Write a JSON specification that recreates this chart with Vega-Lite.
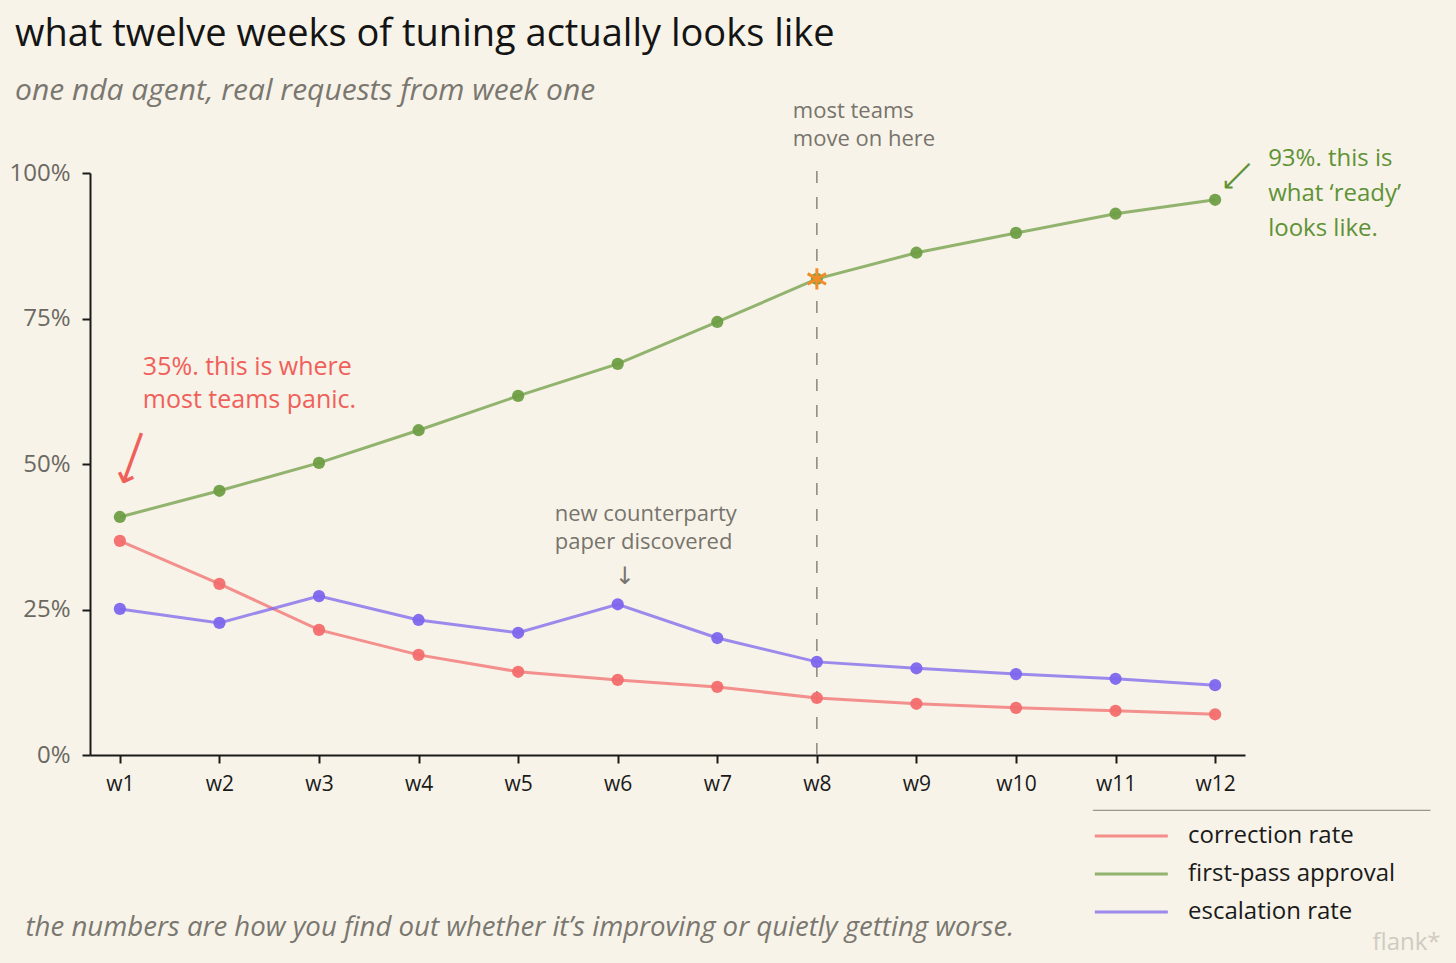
{
  "$schema": "https://vega.github.io/schema/vega-lite/v6.json",
  "width": 1155,
  "height": 582,
  "autosize": {"type": "none"},
  "padding": {"left": 90, "top": 173, "right": 211, "bottom": 208},
  "title": {
    "text": "what twelve weeks of tuning actually looks like",
    "subtitle": "one nda agent, real requests from week one",
    "anchor": "start",
    "frame": "group",
    "dx": -75,
    "offset": -6,
    "font": "Open Sans",
    "fontSize": 38,
    "fontWeight": "normal",
    "color": "#141414",
    "subtitleFont": "Open Sans",
    "subtitleFontSize": 30,
    "subtitleFontStyle": "italic",
    "subtitleColor": "#7a7770",
    "subtitlePadding": 22
  },
  "datasets": {
    "weekly": [
      {"week": "w1", "metric": "correction rate", "value": 36.8},
      {"week": "w2", "metric": "correction rate", "value": 29.4},
      {"week": "w3", "metric": "correction rate", "value": 21.5},
      {"week": "w4", "metric": "correction rate", "value": 17.2},
      {"week": "w5", "metric": "correction rate", "value": 14.3},
      {"week": "w6", "metric": "correction rate", "value": 12.9},
      {"week": "w7", "metric": "correction rate", "value": 11.7},
      {"week": "w8", "metric": "correction rate", "value": 9.8},
      {"week": "w9", "metric": "correction rate", "value": 8.8},
      {"week": "w10", "metric": "correction rate", "value": 8.1},
      {"week": "w11", "metric": "correction rate", "value": 7.6},
      {"week": "w12", "metric": "correction rate", "value": 7.0},
      {"week": "w1", "metric": "first-pass approval", "value": 40.9},
      {"week": "w2", "metric": "first-pass approval", "value": 45.4},
      {"week": "w3", "metric": "first-pass approval", "value": 50.2},
      {"week": "w4", "metric": "first-pass approval", "value": 55.8},
      {"week": "w5", "metric": "first-pass approval", "value": 61.7},
      {"week": "w6", "metric": "first-pass approval", "value": 67.2},
      {"week": "w7", "metric": "first-pass approval", "value": 74.4},
      {"week": "w8", "metric": "first-pass approval", "value": 81.8},
      {"week": "w9", "metric": "first-pass approval", "value": 86.3},
      {"week": "w10", "metric": "first-pass approval", "value": 89.7},
      {"week": "w11", "metric": "first-pass approval", "value": 93.0},
      {"week": "w12", "metric": "first-pass approval", "value": 95.4},
      {"week": "w1", "metric": "escalation rate", "value": 25.1},
      {"week": "w2", "metric": "escalation rate", "value": 22.7},
      {"week": "w3", "metric": "escalation rate", "value": 27.3},
      {"week": "w4", "metric": "escalation rate", "value": 23.2},
      {"week": "w5", "metric": "escalation rate", "value": 21.0},
      {"week": "w6", "metric": "escalation rate", "value": 25.9},
      {"week": "w7", "metric": "escalation rate", "value": 20.1},
      {"week": "w8", "metric": "escalation rate", "value": 16.0},
      {"week": "w9", "metric": "escalation rate", "value": 14.9},
      {"week": "w10", "metric": "escalation rate", "value": 13.9},
      {"week": "w11", "metric": "escalation rate", "value": 13.1},
      {"week": "w12", "metric": "escalation rate", "value": 12.0}
    ],
    "notes": [
      {"id": "panic", "week": "w1", "value": 40.9, "text": "35%. this is where\nmost teams panic."},
      {"id": "ready", "week": "w12", "value": 95.4, "text": "93%. this is\nwhat ‘ready’\nlooks like."},
      {"id": "moveon", "week": "w8", "value": 100, "text": "most teams\nmove on here"},
      {"id": "paper", "week": "w6", "value": 25.9, "text": "new counterparty\npaper discovered"}
    ]
  },
  "encoding": {
    "x": {
      "field": "week",
      "type": "ordinal",
      "scale": {
        "type": "point",
        "domain": ["w1", "w2", "w3", "w4", "w5", "w6", "w7", "w8", "w9", "w10", "w11", "w12"],
        "padding": 0.3
      },
      "axis": {
        "title": "the numbers are how you find out whether it’s improving or quietly getting worse.",
        "titleX": -65,
        "titleY": 180,
        "titleAlign": "left",
        "titleAnchor": "start",
        "titleBaseline": "alphabetic",
        "titleFont": "Open Sans",
        "titleFontSize": 27.6,
        "titleFontStyle": "italic",
        "titleFontWeight": "normal",
        "titleColor": "#7a7770",
        "labelAngle": 0,
        "labelFont": "Open Sans",
        "labelFontSize": 21,
        "labelColor": "#1a1a1a",
        "labelPadding": 10,
        "tickSize": 8,
        "tickWidth": 2,
        "tickColor": "#1a1a1a",
        "domainColor": "#1a1a1a",
        "domainWidth": 2,
        "grid": false
      }
    },
    "y": {
      "field": "value",
      "type": "quantitative",
      "scale": {"domain": [0, 100], "nice": false},
      "axis": {
        "values": [0, 25, 50, 75, 100],
        "labelExpr": "datum.value + '%'",
        "title": "flank*",
        "titleAngle": 0,
        "titleX": 1282,
        "titleY": 776,
        "titleAlign": "left",
        "titleBaseline": "alphabetic",
        "titleFont": "Open Sans",
        "titleFontSize": 24,
        "titleFontWeight": "normal",
        "titleColor": "#cfcbc2",
        "labelFont": "Open Sans",
        "labelFontSize": 24,
        "labelColor": "#6b6862",
        "labelPadding": 12,
        "tickSize": 8,
        "tickWidth": 2,
        "tickColor": "#1a1a1a",
        "domainColor": "#1a1a1a",
        "domainWidth": 2,
        "grid": false
      }
    }
  },
  "layer": [
    {
      "data": {"name": "notes"},
      "transform": [{"filter": "datum.id == 'moveon'"}],
      "mark": {"type": "rule", "color": "#8a8780", "strokeWidth": 1.5, "strokeDash": [12, 14]},
      "encoding": {
        "y": {"datum": 0},
        "y2": {"datum": 101}
      }
    },
    {
      "data": {"name": "weekly"},
      "mark": {"type": "line", "strokeWidth": 3, "opacity": 0.75},
      "encoding": {
        "color": {
          "field": "metric",
          "type": "nominal",
          "scale": {
            "domain": ["correction rate", "first-pass approval", "escalation rate"],
            "range": ["#f26d6d", "#6f9e45", "#7e66ee"]
          },
          "legend": {
            "orient": "none",
            "legendX": 1003,
            "legendY": 631,
            "padding": 0,
            "title": "────────────────────────────────────────",
            "titleFont": "DejaVu Sans",
            "titleFontSize": 14,
            "titleFontWeight": "normal",
            "titleColor": "#9a978f",
            "titleLimit": 500,
            "titlePadding": 4,
            "symbolType": "M-1,0H5",
            "symbolSize": 592,
            "symbolStrokeWidth": 3,
            "labelFont": "Open Sans",
            "labelFontSize": 24,
            "labelColor": "#1a1a1a",
            "labelLimit": 300,
            "labelOffset": 67,
            "rowPadding": 12
          }
        }
      }
    },
    {
      "data": {"name": "weekly"},
      "mark": {"type": "point", "filled": true, "size": 150, "opacity": 0.95},
      "encoding": {
        "color": {"field": "metric", "type": "nominal", "legend": null}
      }
    },
    {
      "data": {"name": "weekly"},
      "transform": [{"filter": "datum.metric == 'first-pass approval' && datum.week == 'w8'"}],
      "mark": {
        "type": "point",
        "shape": "M0,-1L0,1M-0.866,-0.5L0.866,0.5M-0.866,0.5L0.866,-0.5",
        "filled": false,
        "size": 450,
        "strokeWidth": 3,
        "color": "#f28c28",
        "opacity": 1
      }
    },
    {
      "data": {"name": "notes"},
      "transform": [{"filter": "datum.id == 'panic'"}],
      "mark": {"type": "text", "font": "Open Sans", "fontSize": 25, "align": "left", "baseline": "top", "lineBreak": "\n", "lineHeight": 33, "color": "#f0605a", "dx": 23, "dy": -162},
      "encoding": {"text": {"field": "text"}}
    },
    {
      "data": {"name": "notes"},
      "transform": [{"filter": "datum.id == 'panic'"}],
      "mark": {"type": "text", "text": "⟶", "font": "DejaVu Sans", "fontSize": 40, "align": "center", "baseline": "middle", "angle": 110, "color": "#f0605a", "dx": -59.6, "dy": 8.9}
    },
    {
      "data": {"name": "notes"},
      "transform": [{"filter": "datum.id == 'ready'"}],
      "mark": {"type": "text", "font": "Open Sans", "fontSize": 24, "align": "left", "baseline": "top", "lineBreak": "\n", "lineHeight": 35, "color": "#5f9236", "dx": 53, "dy": -53},
      "encoding": {"text": {"field": "text"}}
    },
    {
      "data": {"name": "notes"},
      "transform": [{"filter": "datum.id == 'ready'"}],
      "mark": {"type": "text", "text": "⟶", "font": "DejaVu Sans", "fontSize": 26, "align": "center", "baseline": "middle", "angle": 135, "color": "#5f9236", "dx": -32.5, "dy": 1.4}
    },
    {
      "data": {"name": "notes"},
      "transform": [{"filter": "datum.id == 'moveon'"}],
      "mark": {"type": "text", "font": "Open Sans", "fontSize": 22, "align": "left", "baseline": "top", "lineBreak": "\n", "lineHeight": 28, "color": "#77746d", "dx": -24, "dy": -72},
      "encoding": {"text": {"field": "text"}}
    },
    {
      "data": {"name": "notes"},
      "transform": [{"filter": "datum.id == 'paper'"}],
      "mark": {"type": "text", "font": "Open Sans", "fontSize": 22, "align": "left", "baseline": "top", "lineBreak": "\n", "lineHeight": 28, "color": "#77746d", "dx": -63, "dy": -100},
      "encoding": {"text": {"field": "text"}}
    },
    {
      "data": {"name": "notes"},
      "transform": [{"filter": "datum.id == 'paper'"}],
      "mark": {"type": "text", "text": "↓", "font": "DejaVu Sans", "fontSize": 24, "align": "center", "baseline": "middle", "color": "#77746d", "dx": 7, "dy": -27}
    }
  ],
  "config": {
    "background": "#f7f3e8",
    "view": {"stroke": null},
    "font": "Open Sans"
  }
}
